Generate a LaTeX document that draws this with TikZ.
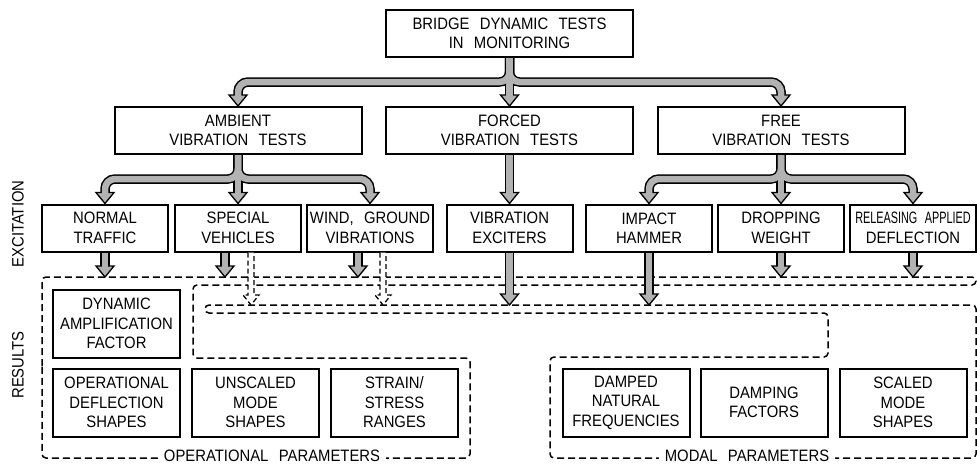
\documentclass[tikz,border=0pt]{standalone}
\usepackage{fontspec}
\setmainfont{Liberation Sans}[FakeStretch=0.9, WordSpace=2.5]
\usetikzlibrary{positioning}
\usetikzlibrary{calc}
\tikzset{
    % Plain rectangular box used for the tests and for the results
    test box/.style={
        draw, line width=2pt, fill=white, align=center, inner sep=1pt,
        minimum width=247pt, minimum height=47pt},
    method box/.style={test box, minimum width=126pt},
    result box/.style={test box, minimum width=127pt, minimum height=68pt},
%
    % The two strokes that together make a fat grey arrow shaft
    shaft outline/.style={draw, line width=9.5pt, rounded corners=10pt},
    shaft inside/.style={draw=black!30, line width=6.5pt, rounded corners=10pt},
    head fill/.style={draw, line width=1.3pt, fill=black!30},
%
    % Dashed outlines round the groups of results
    parameter region/.style={
        draw, line width=1.5pt, dash pattern=on 7pt off 4pt,
        rounded corners=4pt},
    region label/.style={
        fill=white, inner xsep=6pt, inner ysep=0pt, text depth=0pt},
    hollow arrow/.style={
        draw, fill=white, line width=1.3pt, dash pattern=on 5pt off 3pt}}
\pgfdeclarelayer{background}
\pgfdeclarelayer{foreground}
\pgfsetlayers{background,main,foreground}

\begin{document}
\begin{tikzpicture}[x=1pt, y=-1pt]
\fontsize{16.5}{19.5}\selectfont
\useasboundingbox (0,0) rectangle (977,466);

% Draws a fat grey arrow along path #1 with its head ending at #2
\newcommand{\fatarrow}[2]{
\draw [shaft outline] #1;
\begin{pgfonlayer}{foreground}
\draw [shaft inside] #1;
\end{pgfonlayer}
\draw [head fill] (#2) -- ++(-9,-11) -- ++(18,0) -- cycle;
}

% Straight fat arrow dropping from #1 down to the level of #2
\newcommand{\dropto}[2]{
\fatarrow{(#1) -- ($(#1 |- #2)+(0,-9)$)}{#1 |- #2}
}

% Dashed hollow arrow dropping from #1 down to the level of #2
\newcommand{\hollowdrop}[2]{
\draw [hollow arrow] ($(#1)+(-3,0)$) -- ($(#1 |- #2)+(-3,-10)$) -- ++(-5,0)
    -- (#1 |- #2) -- ++(8,-10) -- ++(-5,0) -- ($(#1)+(3,0)$);
}

% Test types
\node [test box] (bridge) at (509.5,33.5) {BRIDGE DYNAMIC TESTS\\IN MONITORING};
\node [test box] (ambient) at (238,130.5) {AMBIENT\\VIBRATION TESTS};
\node [test box] (forced) at (509.5,130.5) {FORCED\\VIBRATION TESTS};
\node [test box] (free) at (781,130.5) {FREE\\VIBRATION TESTS};

% Excitation sources
\node [method box] (normal) at (105,228) {NORMAL\\TRAFFIC};
\node [method box, right=5pt of normal] (special) {SPECIAL\\VEHICLES};
\node [method box, right=4pt of special] (wind) {WIND, GROUND\\VIBRATIONS};
\node [method box] (exciters) at (509.5,228) {VIBRATION\\EXCITERS};
\node [method box] (impact) at (649,228) {IMPACT\\HAMMER};
\node [method box, right=4pt of impact] (dropping) {DROPPING\\WEIGHT};
\node [method box, right=4pt of dropping] (releasing)
    {\scalebox{0.73}[1]{RELEASING APPLIED}\\DEFLECTION};

\node [rotate=90] (excitation) at (18,224) {EXCITATION};
\node [rotate=90] (results) at (18,365) {RESULTS};

% Results
\node [result box] (op deflection) at (116.5,402.5)
    {OPERATIONAL\\DEFLECTION\\SHAPES};
\node [result box, above=9pt of op deflection] (amplification)
    {DYNAMIC\\AMPLIFICATION\\FACTOR};
\node [result box, right=10pt of op deflection] (unscaled)
    {UNSCALED\\MODE\\SHAPES};
\node [result box, right=10pt of unscaled] (strain) {STRAIN/\\STRESS\\RANGES};
\node [result box] (frequencies) at (626,402.5)
    {DAMPED\\NATURAL\\FREQUENCIES};
\node [result box, right=9pt of frequencies] (damping) {DAMPING\\FACTORS};
\node [result box, right=10pt of damping] (scaled) {SCALED\\MODE\\SHAPES};

% Groups of parameters
\coordinate (op top) at (0,277);
\coordinate (modal top) at (0,305);
\begin{pgfonlayer}{background}
\draw [parameter region] (42,370) -- (42,277) -- (976,277) -- (976,285)
    -- (193,285) -- (193,358) -- (470,358) -- (470,458) -- (42,458) -- cycle;
\draw [parameter region] (976,380) -- (976,458) -- (550,458) -- (550,357)
    -- (828,357) -- (828,313) -- (205,313) -- (205,305) -- (976,305) -- cycle;
\end{pgfonlayer}
\node [region label] (operational label) at (272,456)
    {OPERATIONAL PARAMETERS};
\node [region label] (modal label) at (747,456) {MODAL PARAMETERS};

% Branches from the tests down to the excitations
\fatarrow{(bridge.south) -- ++(0,24) -| ($(ambient.north)+(0,-9)$)}
    {ambient.north}
\fatarrow{(bridge.south) -- ($(forced.north)+(0,-9)$)}{forced.north}
\fatarrow{(bridge.south) -- ++(0,24) -| ($(free.north)+(0,-9)$)}{free.north}

\fatarrow{(ambient.south) -- ++(0,24) -| ($(normal.north)+(0,-9)$)}
    {normal.north}
\fatarrow{(ambient.south) -- ($(special.north)+(0,-9)$)}{special.north}
\fatarrow{(ambient.south) -- ++(0,24) -| ($(wind.north)+(0,-9)$)}
    {wind.north}

\fatarrow{(forced.south) -- ($(exciters.north)+(0,-9)$)}{exciters.north}

\fatarrow{(free.south) -- ++(0,24) -| ($(impact.north)+(0,-9)$)}
    {impact.north}
\fatarrow{(free.south) -- ($(dropping.north)+(0,-9)$)}{dropping.north}
\fatarrow{(free.south) -- ++(0,24) -| ($(releasing.north)+(0,-9)$)}
    {releasing.north}

% Excitations down to the results
\coordinate (special left) at ($(special.south)+(-13,0)$);
\coordinate (special right) at ($(special.south)+(13,0)$);
\coordinate (wind left) at ($(wind.south)+(-12,0)$);
\coordinate (wind right) at ($(wind.south)+(13,0)$);

\dropto{normal.south}{op top}
\dropto{special left}{op top}
\dropto{wind left}{op top}
\dropto{exciters.south}{modal top}
\dropto{impact.south}{modal top}
\dropto{dropping.south}{op top}
\dropto{releasing.south}{op top}
\hollowdrop{special right}{modal top}
\hollowdrop{wind right}{modal top}

\end{tikzpicture}
\end{document}
